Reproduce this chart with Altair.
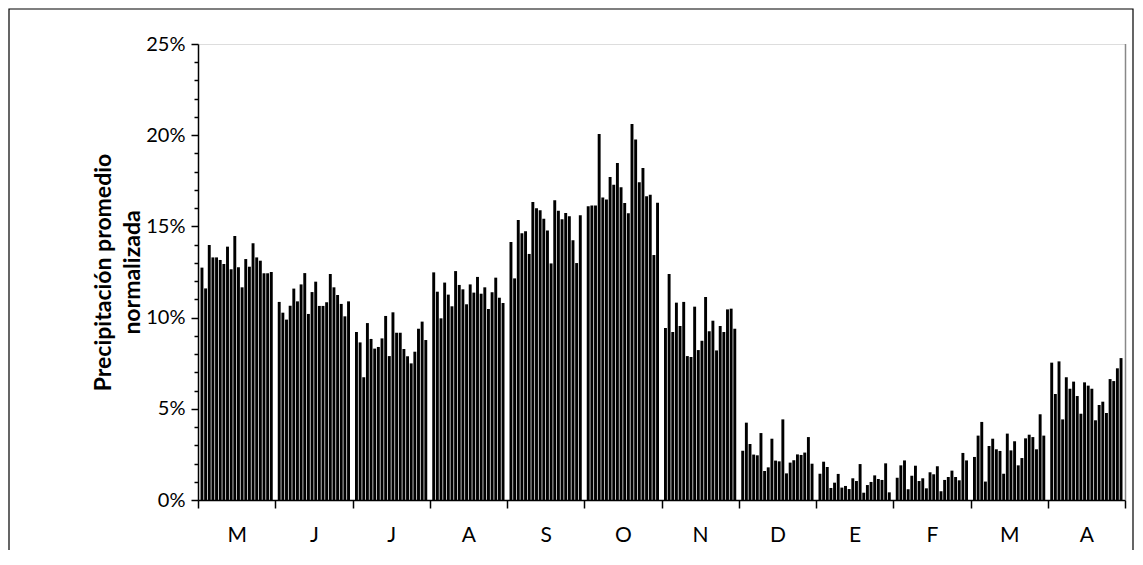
import altair as alt
import pandas as pd

# Month keys (Spanish), first letter is the tick label
months = ["Mayo", "Junio", "Julio", "Agosto", "Septiembre", "Octubre",
          "Noviembre", "Diciembre", "Enero", "Febrero", "Marzo", "Abril"]

may = [12.74, 11.60, 13.98, 13.30, 13.30, 13.16, 12.94, 13.89, 12.65, 14.47,
       12.76, 11.66, 13.21, 12.79, 14.07, 13.30, 13.12, 12.43, 12.43, 12.50]
jun = [10.86, 10.27, 9.89, 10.65, 11.59, 10.89, 11.82, 12.44, 10.20, 11.40,
       11.97, 10.64, 10.64, 10.84, 12.39, 11.66, 11.24, 10.75, 10.07, 10.89]
jul = [9.21, 8.64, 6.73, 9.70, 8.83, 8.30, 8.39, 8.86, 10.09, 7.89,
       10.29, 9.17, 9.17, 8.28, 7.88, 7.49, 8.13, 9.39, 9.78, 8.77]
aug = [12.48, 11.42, 9.96, 11.92, 11.26, 10.62, 12.55, 11.79, 11.55, 10.73,
       11.82, 11.37, 12.23, 11.31, 11.66, 10.47, 11.39, 12.19, 11.09, 10.80]
sep = [14.14, 12.15, 15.35, 14.62, 14.73, 13.49, 16.34, 16.00, 15.88, 15.42,
       14.77, 12.97, 16.43, 15.86, 15.39, 15.73, 15.55, 14.24, 12.99, 15.61]
oct_ = [16.10, 16.15, 16.15, 20.07, 16.58, 16.47, 17.71, 17.29, 18.48, 17.14,
        16.28, 15.72, 20.61, 19.77, 17.42, 18.20, 16.65, 16.74, 13.43, 16.30]
nov = [9.43, 12.39, 9.21, 10.82, 9.54, 10.86, 7.89, 7.84, 10.60, 8.22,
       8.73, 11.13, 9.25, 9.83, 8.20, 9.54, 9.21, 10.45, 10.49, 9.39]
dec = [2.70, 4.24, 3.07, 2.49, 2.45, 3.67, 1.59, 1.79, 3.36, 2.16,
       2.12, 4.42, 1.46, 2.05, 2.18, 2.50, 2.47, 2.60, 3.45, 1.99]
jan = [1.44, 2.10, 1.81, 0.66, 0.95, 1.43, 0.68, 0.77, 0.60, 1.19,
       1.04, 1.97, 0.40, 0.82, 0.99, 1.35, 1.15, 1.10, 2.01, 0.42]
feb = [1.22, 1.90, 2.17, 0.59, 1.33, 1.88, 1.04, 1.19, 0.64, 1.52,
       1.41, 1.85, 0.48, 1.10, 1.26, 1.61, 1.26, 1.08, 2.58, 2.17]
mar = [2.36, 3.53, 4.28, 1.01, 2.96, 3.36, 2.78, 2.69, 1.44, 3.64,
       2.72, 3.22, 1.90, 2.30, 3.38, 3.58, 3.45, 2.78, 4.70, 3.53]
apr = [7.53, 5.81, 7.60, 4.42, 6.73, 6.10, 6.49, 5.70, 4.73, 6.45,
       6.27, 6.10, 4.37, 5.21, 5.39, 4.77, 6.63, 6.52, 7.22, 7.78]

series = [may, jun, jul, aug, sep, oct_, nov, dec, jan, feb, mar, apr]
y_ticks = list(range(0, 26))

rows = []
for m, vals in zip(months, series):
    for i, v in enumerate(vals):
        rows.append({"mes": m, "anio": i, "valor": v})
df = pd.DataFrame(rows)

FONT = "Lato"

bars = alt.Chart(df).mark_bar(color="#000000").encode(
    x=alt.X(
        "mes:N", sort=months,
        scale=alt.Scale(paddingInner=0, paddingOuter=0),
        axis=alt.Axis(
            title=None, tickBand="extent", labelAngle=0,
            labelExpr="(datum.extra || !isString(datum.value)) ? '' : substring(datum.value, 0, 1)",
            labelFont=FONT, labelFontSize=21, labelColor="#000000",
            labelPadding=16, tickSize=8, tickColor="#000000", tickWidth=1.5,
            domainColor="#000000", domainWidth=1.5,
        ),
    ),
    xOffset=alt.XOffset("anio:O", scale=alt.Scale(paddingInner=0.2, paddingOuter=0.685)),
    y=alt.Y(
        "valor:Q",
        scale=alt.Scale(domain=[0, 25], nice=False, zero=True),
        axis=alt.Axis(
            title=["Precipitación promedio", "normalizada"],
            titleFont=FONT, titleFontSize=23, titleFontWeight="bold",
            titleColor="#000000", titlePadding=1, titleLineHeight=29,
            values=y_ticks,
            labelExpr="datum.value % 5 === 0 ? datum.value + '%' : ''",
            labelFont=FONT, labelFontSize=20, labelColor="#000000",
            labelPadding=6,
            tickSize={"condition": {"test": "datum.value % 5 === 0", "value": 7}, "value": 4},
            tickColor="#000000", tickWidth=1.5,
            domainColor="#000000", domainWidth=1.5, grid=False,
        ),
    ),
)

right_edge = alt.Chart(pd.DataFrame({"k": [0]})).mark_rule(
    color="#888888", strokeWidth=1.5
).encode(x=alt.value(927.5), y=alt.value(0), y2=alt.value(456))

frame = alt.Chart(pd.DataFrame({"k": [0]})).mark_rect(
    fillOpacity=0, stroke="#000000", strokeWidth=1.2, clip=False
).encode(
    x=alt.value(-189), x2=alt.value(935), y=alt.value(-35), y2=alt.value(560)
)

chart = alt.layer(bars, right_edge, frame).properties(
    width=927, height=456,
    autosize=alt.AutoSizeParams(type="none"),
    padding={"left": 190, "top": 36, "right": 10, "bottom": 50},
).configure_view(strokeWidth=0, strokeOpacity=0).configure(background="#ffffff")

chart.save("out.html", embed_options={"renderer": "svg", "actions": False})
